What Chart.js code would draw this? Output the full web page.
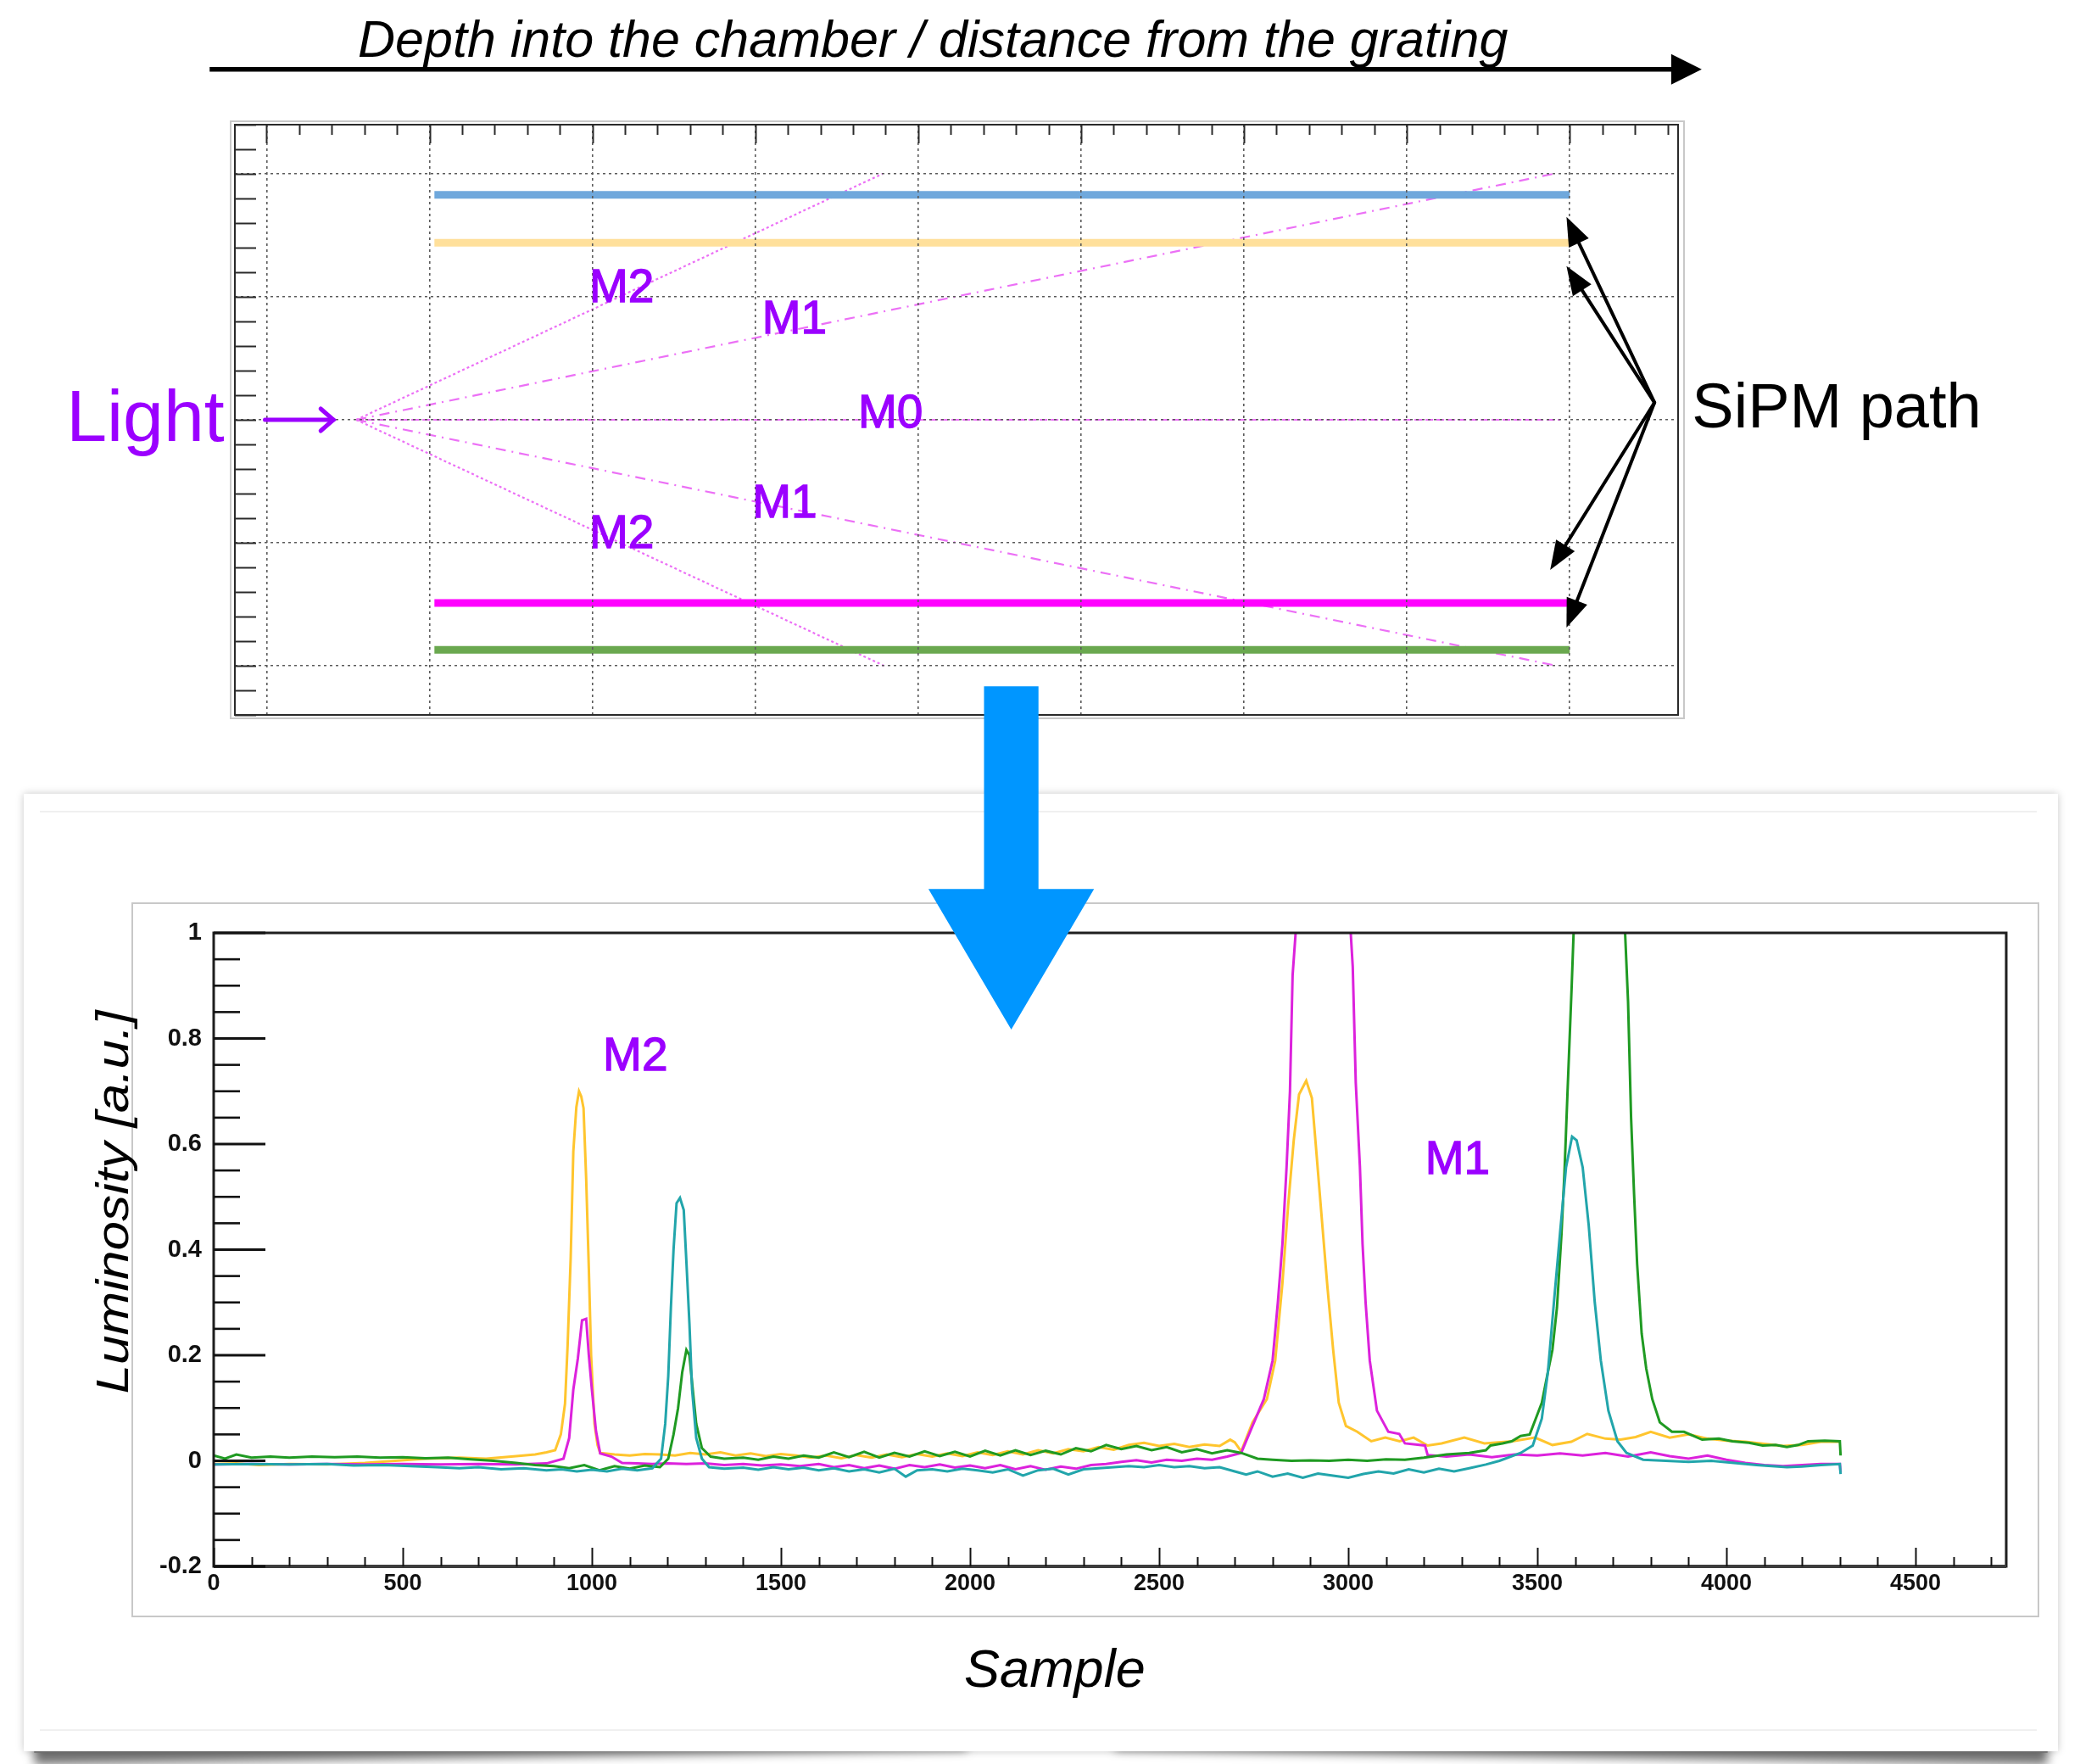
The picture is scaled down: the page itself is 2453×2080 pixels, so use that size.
<!DOCTYPE html>
<html>
<head>
<meta charset="utf-8">
<title>SiPM path and luminosity traces</title>
<script src="https://cdn.jsdelivr.net/npm/chart.js@4.4.1/dist/chart.umd.min.js"></script>
<style>
  html, body { margin: 0; padding: 0; background: #fff; }
  body { width: 2453px; height: 2080px; position: relative; overflow: hidden; }
  canvas { position: absolute; left: 0; top: 0; }
  #pathChart { z-index: 4; }
  #lumChart { z-index: 5; }
  .card { position: absolute; left: 28px; top: 936px; width: 2399px; height: 1129px;
          background: #fff; box-shadow: 0 0 9px rgba(0,0,0,0.22); z-index: 1; }
  .lift { position: absolute; top: 2028px; width: 1100px; height: 30px; background: #777;
          box-shadow: 0 14px 12px rgba(0,0,0,0.55); z-index: 0; }
  .lift.l { left: 40px; transform: rotate(-0.9deg); }
  .lift.r { left: 1315px; transform: rotate(0.9deg); }
  .rule { position: absolute; left: 47px; top: 956px; width: 2355px; height: 1085px;
          border-top: 2px solid #f0f0f0; border-bottom: 2px solid #f0f0f0; box-sizing: border-box; z-index: 2; }
  .pad { position: absolute; border: 2px solid #c8c8c8; box-sizing: border-box; z-index: 3; background: #fff; }
</style>
</head>
<body>
<div class="lift l"></div>
<div class="lift r"></div>
<div class="card"></div>
<div class="rule"></div>
<div class="pad" style="left:271px; top:142px; width:1716px; height:706px;"></div>
<div class="pad" style="left:155px; top:1064px; width:2250px; height:843px;"></div>
<canvas id="pathChart" width="2453" height="2080"></canvas>
<canvas id="lumChart" width="2453" height="2080"></canvas>

<script>
// ---------- top diagram: SiPM tracks and diffraction orders ----------
const gridCols = [0, 1, 2, 3, 4, 5, 6, 7, 8];
const gridRows = [0, 1, 2, 3, 4];

// SiPM tracks (horizontal bars): level and span along the depth axis
const trackLevels = [3.83, 3.44, 0.51, 0.13];
const trackColors = ['#6fa8dc', '#ffe09b', '#ff00ff', '#6aa84f'];
const trackSpan = [1.03, 8];

// diffraction orders leaving the entrance point
const rayOrigin = [0.55, 2.0];
const rayNames = ['M2', 'M1', 'M0', 'M1', 'M2'];
const rayEndX = [3.78, 7.9, 7.94, 7.92, 3.79];
const rayEndY = [4, 4, 2, 0, 0];
const rayLabelX = [2.18, 3.24, 3.83, 3.18, 2.18];
const rayLabelY = [3.06, 2.81, 2.04, 1.31, 1.06];

// ---------- bottom plot: luminosity vs sample ----------
const amberTrace = [[0,-0.006],[60,-0.005],[120,-0.008],[200,-0.006],[300,-0.007],[400,-0.004],[480,0.0],[560,0.004],[650,0.006],[720,0.004],[800,0.009],[850,0.012],[880,0.016],[903,0.02],[918,0.05],[929,0.108],[936,0.22],[944,0.384],[951,0.586],[959,0.67],[966,0.70],[972,0.69],[978,0.668],[985,0.534],[992,0.364],[998,0.2],[1007,0.07],[1015,0.03],[1022,0.015],[1060,0.012],[1100,0.01],[1140,0.013],[1180,0.012],[1220,0.01],[1260,0.015],[1300,0.012],[1340,0.016],[1380,0.01],[1420,0.014],[1460,0.009],[1500,0.013],[1540,0.01],[1580,0.006],[1620,0.01],[1660,0.005],[1700,0.011],[1740,0.006],[1780,0.012],[1820,0.007],[1860,0.013],[1900,0.008],[1940,0.014],[1980,0.009],[2020,0.016],[2060,0.011],[2100,0.018],[2140,0.012],[2180,0.02],[2220,0.014],[2260,0.022],[2300,0.018],[2340,0.026],[2380,0.021],[2420,0.03],[2460,0.034],[2500,0.028],[2540,0.032],[2580,0.026],[2620,0.031],[2660,0.028],[2688,0.04],[2700,0.035],[2717,0.018],[2747,0.073],[2785,0.117],[2807,0.19],[2826,0.336],[2841,0.482],[2856,0.607],[2870,0.694],[2889,0.72],[2904,0.687],[2915,0.592],[2930,0.46],[2945,0.33],[2960,0.212],[2975,0.11],[2994,0.066],[3024,0.055],[3061,0.037],[3098,0.044],[3136,0.037],[3173,0.044],[3210,0.029],[3247,0.033],[3307,0.044],[3360,0.033],[3434,0.037],[3494,0.044],[3540,0.03],[3590,0.036],[3632,0.051],[3680,0.042],[3720,0.04],[3760,0.045],[3800,0.055],[3850,0.044],[3900,0.05],[3950,0.042],[4000,0.038],[4050,0.036],[4100,0.032],[4150,0.028],[4200,0.03],[4250,0.036],[4300,0.036]];

const magentaTrace = [[0,-0.007],[100,-0.006],[200,-0.007],[300,-0.006],[400,-0.007],[500,-0.006],[600,-0.007],[700,-0.006],[800,-0.007],[880,-0.005],[925,0.004],[940,0.043],[951,0.135],[963,0.194],[974,0.266],[985,0.269],[992,0.2],[1000,0.135],[1011,0.056],[1022,0.014],[1052,0.008],[1080,-0.004],[1120,-0.005],[1160,-0.006],[1200,-0.005],[1250,-0.006],[1300,-0.005],[1350,-0.008],[1400,-0.006],[1450,-0.009],[1500,-0.007],[1550,-0.01],[1600,-0.006],[1640,-0.012],[1680,-0.008],[1720,-0.014],[1760,-0.009],[1800,-0.015],[1840,-0.008],[1880,-0.012],[1920,-0.007],[1960,-0.013],[2000,-0.009],[2040,-0.014],[2080,-0.008],[2120,-0.016],[2160,-0.01],[2200,-0.017],[2240,-0.011],[2280,-0.015],[2320,-0.008],[2360,-0.006],[2400,-0.002],[2440,0.001],[2480,-0.003],[2520,0.002],[2560,0.0],[2600,0.004],[2640,0.002],[2680,0.008],[2717,0.015],[2747,0.066],[2777,0.117],[2800,0.19],[2814,0.3],[2826,0.41],[2837,0.556],[2846,0.7],[2853,0.92],[2863,1.02],[2880,1.3],[2910,1.7],[2935,1.85],[2960,1.7],[2985,1.35],[3005,1.02],[3012,0.936],[3020,0.716],[3031,0.556],[3038,0.41],[3046,0.3],[3057,0.19],[3076,0.095],[3106,0.055],[3135,0.051],[3150,0.033],[3203,0.029],[3210,0.011],[3260,0.008],[3320,0.012],[3380,0.007],[3440,0.012],[3500,0.01],[3560,0.014],[3620,0.01],[3680,0.015],[3740,0.008],[3800,0.016],[3850,0.009],[3900,0.004],[3950,0.01],[4000,0.002],[4050,-0.004],[4100,-0.008],[4150,-0.01],[4200,-0.008],[4250,-0.006],[4300,-0.006],[4302,-0.022]];

const tealTrace = [[0,-0.007],[100,-0.006],[200,-0.007],[300,-0.006],[370,-0.009],[450,-0.008],[520,-0.01],[590,-0.012],[650,-0.014],[700,-0.012],[760,-0.016],[820,-0.014],[880,-0.018],[920,-0.016],[960,-0.02],[1000,-0.017],[1040,-0.02],[1080,-0.015],[1120,-0.018],[1160,-0.014],[1183,0.004],[1194,0.07],[1202,0.16],[1209,0.29],[1216,0.4],[1224,0.488],[1233,0.498],[1243,0.475],[1250,0.377],[1258,0.26],[1265,0.135],[1276,0.043],[1291,0.004],[1310,-0.012],[1350,-0.015],[1400,-0.013],[1440,-0.017],[1480,-0.012],[1520,-0.016],[1560,-0.013],[1600,-0.018],[1640,-0.014],[1680,-0.02],[1720,-0.016],[1760,-0.022],[1800,-0.015],[1830,-0.03],[1860,-0.018],[1900,-0.016],[1940,-0.02],[1980,-0.015],[2020,-0.018],[2060,-0.022],[2100,-0.016],[2140,-0.028],[2180,-0.018],[2220,-0.015],[2260,-0.026],[2300,-0.016],[2340,-0.014],[2380,-0.012],[2420,-0.01],[2460,-0.012],[2500,-0.008],[2540,-0.012],[2580,-0.01],[2620,-0.014],[2660,-0.012],[2700,-0.02],[2730,-0.026],[2760,-0.02],[2800,-0.03],[2840,-0.024],[2880,-0.032],[2920,-0.024],[2960,-0.028],[3000,-0.032],[3040,-0.025],[3080,-0.02],[3120,-0.024],[3160,-0.016],[3200,-0.022],[3240,-0.015],[3280,-0.02],[3320,-0.014],[3364,-0.007],[3400,0.0],[3456,0.015],[3488,0.029],[3512,0.08],[3528,0.168],[3544,0.3],[3560,0.43],[3576,0.556],[3592,0.614],[3604,0.607],[3620,0.556],[3636,0.446],[3652,0.3],[3668,0.19],[3688,0.095],[3712,0.037],[3736,0.015],[3780,0.002],[3840,0.0],[3900,-0.002],[3960,0.0],[4020,-0.004],[4080,-0.008],[4120,-0.01],[4160,-0.012],[4200,-0.011],[4250,-0.008],[4300,-0.006],[4302,-0.025]];

const greenTrace = [[0,0.01],[30,0.004],[60,0.012],[100,0.006],[150,0.008],[200,0.006],[260,0.008],[320,0.007],[380,0.008],[440,0.006],[500,0.007],[560,0.005],[620,0.006],[680,0.003],[740,0.0],[800,-0.004],[850,-0.008],[900,-0.01],[940,-0.014],[980,-0.008],[1020,-0.018],[1060,-0.01],[1100,-0.015],[1140,-0.009],[1180,-0.012],[1202,0.004],[1216,0.05],[1228,0.1],[1239,0.168],[1250,0.21],[1258,0.2],[1265,0.148],[1276,0.07],[1291,0.024],[1314,0.008],[1350,0.004],[1400,0.006],[1440,0.002],[1480,0.008],[1520,0.004],[1560,0.01],[1600,0.006],[1640,0.016],[1680,0.007],[1720,0.017],[1760,0.006],[1800,0.015],[1840,0.008],[1880,0.018],[1920,0.009],[1960,0.017],[2000,0.008],[2040,0.019],[2080,0.01],[2120,0.02],[2160,0.011],[2200,0.019],[2240,0.012],[2280,0.024],[2320,0.018],[2360,0.03],[2400,0.022],[2440,0.028],[2480,0.02],[2520,0.026],[2560,0.016],[2600,0.022],[2640,0.014],[2680,0.02],[2717,0.015],[2760,0.004],[2800,0.002],[2850,0.0],[2900,0.001],[2950,0.0],[3000,0.002],[3050,0.0],[3100,0.003],[3150,0.002],[3200,0.006],[3260,0.012],[3320,0.015],[3364,0.02],[3376,0.029],[3408,0.033],[3432,0.037],[3456,0.047],[3480,0.05],[3496,0.08],[3512,0.11],[3528,0.168],[3540,0.21],[3552,0.29],[3564,0.43],[3572,0.548],[3580,0.7],[3591,0.9],[3597,1.02],[3620,1.4],[3660,1.75],[3700,1.4],[3731,1.02],[3740,0.87],[3748,0.65],[3756,0.504],[3764,0.373],[3776,0.241],[3788,0.175],[3804,0.117],[3824,0.073],[3856,0.055],[3888,0.055],[3936,0.04],[3980,0.042],[4016,0.037],[4060,0.034],[4096,0.029],[4130,0.03],[4160,0.026],[4190,0.03],[4216,0.037],[4260,0.038],[4300,0.037],[4302,0.01]];

const sampleTicks = [0, 500, 1000, 1500, 2000, 2500, 3000, 3500, 4000, 4500];
const lumTicks = [-0.2, 0, 0.2, 0.4, 0.6, 0.8, 1];
const peakTags = [['M2', 1115, 0.764], ['M1', 3289, 0.568]];

const FONT = '"Liberation Sans", Arial, sans-serif';
const VIOLET = '#9b00ff';

function toXY(pts) { return pts.map(p => ({ x: p[0], y: p[1] })); }

function line(ctx, x1, y1, x2, y2) {
  ctx.beginPath(); ctx.moveTo(x1, y1); ctx.lineTo(x2, y2); ctx.stroke();
}

// filled arrow head with its tip at (x2, y2)
function head(ctx, x1, y1, x2, y2, len, half) {
  const a = Math.atan2(y2 - y1, x2 - x1);
  const bx = x2 - len * Math.cos(a), by = y2 - len * Math.sin(a);
  ctx.beginPath();
  ctx.moveTo(x2, y2);
  ctx.lineTo(bx + half * Math.sin(a), by - half * Math.cos(a));
  ctx.lineTo(bx - half * Math.sin(a), by + half * Math.cos(a));
  ctx.closePath();
  ctx.fill();
}

// violet order tag, filled and lightly outlined so it reads a bit heavier
function tag(ctx, text, px, py) {
  ctx.fillStyle = VIOLET;
  ctx.strokeStyle = VIOLET;
  ctx.lineWidth = 1.3;
  ctx.font = '55px ' + FONT;
  ctx.textAlign = 'center';
  ctx.textBaseline = 'middle';
  ctx.fillText(text, px, py);
  ctx.strokeText(text, px, py);
}

// ---------- top diagram ----------
const pathDecor = {
  id: 'pathDecor',
  afterDraw(chart) {
    const { ctx, chartArea: a } = chart;
    const x = chart.scales.x, y = chart.scales.y;
    const X = v => x.getPixelForValue(v), Y = v => y.getPixelForValue(v);
    ctx.save();

    // frame and inner ticks
    ctx.strokeStyle = '#2a2a2a';
    ctx.lineWidth = 2;
    ctx.strokeRect(a.left, a.top, a.right - a.left, a.bottom - a.top);
    for (let k = -2; k <= 22; k++) {
      const py = Math.round(Y(k * 0.2)) + 0.5;
      line(ctx, a.left, py, a.left + 25, py);
    }
    for (let k = -1; k <= 44; k++) {
      const v = k * 0.2;
      if (v < x.min || v > x.max) continue;
      const px = Math.round(X(v)) + 0.5;
      line(ctx, px, a.top, px, a.top + (k % 5 === 0 ? 22 : 12));
    }

    // order labels
    rayNames.forEach((n, i) => tag(ctx, n, X(rayLabelX[i]), Y(rayLabelY[i])));

    // incoming light
    ctx.fillStyle = VIOLET;
    ctx.textAlign = 'left';
    ctx.textBaseline = 'alphabetic';
    ctx.font = '86px ' + FONT;
    ctx.fillText('Light', X(-1.23), Y(1.83));
    ctx.strokeStyle = VIOLET;
    ctx.lineWidth = 5;
    ctx.lineCap = 'round';
    const ly = Y(2.0), lx0 = X(-0.01), lx1 = X(0.41);
    line(ctx, lx0, ly, lx1, ly);
    ctx.beginPath();
    ctx.moveTo(lx1 - 15, ly - 13); ctx.lineTo(lx1, ly); ctx.lineTo(lx1 - 15, ly + 13);
    ctx.stroke();

    // SiPM path callout
    ctx.fillStyle = '#000';
    ctx.font = '74px ' + FONT;
    ctx.fillText('SiPM path', X(8.75), Y(1.94));
    ctx.strokeStyle = '#000';
    ctx.lineWidth = 4;
    const ax = X(8.52), ay = Y(2.14);
    const tipX = [7.98, 7.98, 7.88, 7.98], tipY = [3.65, 3.25, 0.78, 0.31];
    tipX.forEach((tx, i) => {
      const px = X(tx), py = Y(tipY[i]);
      const d = Math.hypot(px - ax, py - ay), f = (d - 24) / d;
      line(ctx, ax, ay, ax + (px - ax) * f, ay + (py - ay) * f);
      head(ctx, ax, ay, px, py, 34, 13);
    });

    // headline with its depth arrow
    ctx.font = 'italic 61px ' + FONT;
    ctx.fillText('Depth into the chamber / distance from the grating', X(0.56), Y(4.95));
    ctx.lineWidth = 5.5;
    ctx.lineCap = 'butt';
    const hy = Y(4.85), hx0 = X(-0.35), hx1 = X(8.81);
    line(ctx, hx0, hy, hx1 - 30, hy);
    head(ctx, hx0, hy, hx1, hy, 36, 18);

    ctx.restore();
  }
};

const trackSets = trackLevels.map((lv, i) => ({
  data: [{ x: trackSpan[0], y: lv }, { x: trackSpan[1], y: lv }],
  borderColor: trackColors[i],
  borderWidth: 9,
  borderCapStyle: 'butt',
  pointRadius: 0,
  order: 0
}));

const rayDash = [[3, 3], [12, 7, 2, 7], [9, 4], [12, 7, 2, 7], [3, 3]];
const raySets = rayNames.map((n, i) => ({
  data: [{ x: rayOrigin[0], y: rayOrigin[1] }, { x: rayEndX[i], y: rayEndY[i] }],
  borderColor: 'rgb(236,112,246)',
  borderWidth: 2.2,
  borderDash: rayDash[i],
  pointRadius: 0,
  order: 1
}));

new Chart(document.getElementById('pathChart'), {
  type: 'line',
  data: { datasets: trackSets.concat(raySets) },
  options: {
    responsive: false,
    animation: false,
    devicePixelRatio: 1,
    events: [],
    layout: { padding: { left: 277, right: 474, top: 147, bottom: 1237 } },
    plugins: { legend: { display: false }, tooltip: { enabled: false } },
    scales: {
      x: {
        type: 'linear', min: -0.195, max: 8.665,
        afterBuildTicks: s => { s.ticks = gridCols.map(v => ({ value: v })); },
        afterFit: s => { s.height = 0; },
        ticks: { display: false },
        grid: { color: '#5a5a5a', lineWidth: 1.6, drawTicks: false, z: 1 },
        border: { display: false, dash: [3, 4] }
      },
      y: {
        type: 'linear', min: -0.4, max: 4.4,
        afterBuildTicks: s => { s.ticks = gridRows.map(v => ({ value: v })); },
        afterFit: s => { s.width = 0; },
        ticks: { display: false },
        grid: { color: '#5a5a5a', lineWidth: 1.6, drawTicks: false, z: 1 },
        border: { display: false, dash: [3, 4] }
      }
    }
  },
  plugins: [pathDecor]
});

// ---------- bottom plot ----------
const lumDecor = {
  id: 'lumDecor',
  afterDraw(chart) {
    const { ctx, chartArea: a } = chart;
    const x = chart.scales.x, y = chart.scales.y;
    const X = v => x.getPixelForValue(v), Y = v => y.getPixelForValue(v);
    ctx.save();

    // frame
    ctx.strokeStyle = '#1e1e1e';
    ctx.lineWidth = 3;
    ctx.strokeRect(a.left, a.top, a.right - a.left, a.bottom - a.top);
    ctx.strokeStyle = '#3c3c3c';
    ctx.lineWidth = 4;
    line(ctx, a.left, a.bottom, a.right, a.bottom);

    // inward ticks: y every 0.05, x every 100
    ctx.strokeStyle = '#111';
    for (let k = 0; k <= 24; k++) {
      const py = Y(-0.2 + k * 0.05);
      const major = k % 4 === 0;
      ctx.lineWidth = major ? 3 : 2.6;
      line(ctx, a.left, py, a.left + (major ? 61 : 31), py);
    }
    ctx.lineWidth = 2;
    for (let k = 0; k <= 47; k++) {
      const px = Math.round(X(k * 100)) + 0.5;
      line(ctx, px, a.bottom, px, a.bottom - (k % 5 === 0 ? 22 : 11));
    }

    // order tags over the peaks
    peakTags.forEach(t => tag(ctx, t[0], X(t[1]), Y(t[2])));

    // axis titles
    ctx.fillStyle = '#000';
    ctx.textAlign = 'center';
    ctx.textBaseline = 'alphabetic';
    ctx.font = 'italic 63px ' + FONT;
    ctx.fillText('Sample', X(2224), Y(-0.428));
    ctx.save();
    ctx.translate(X(-226), Y(0.49));
    ctx.rotate(-Math.PI / 2);
    ctx.scale(1.15, 1);
    ctx.font = 'italic 54px ' + FONT;
    ctx.fillText('Luminosity [a.u.]', 0, 0);
    ctx.restore();

    // big arrow leading from the diagram down to the plot
    const cx = X(2109), sh = X(2109 + 72) - cx, hh = X(2109 + 219) - cx;
    const top = Y(1.467), neck = Y(1.083), tip = Y(0.817);
    ctx.fillStyle = '#0096ff';
    ctx.beginPath();
    ctx.moveTo(cx - sh, top); ctx.lineTo(cx + sh, top); ctx.lineTo(cx + sh, neck);
    ctx.lineTo(cx + hh, neck); ctx.lineTo(cx, tip); ctx.lineTo(cx - hh, neck);
    ctx.lineTo(cx - sh, neck); ctx.closePath();
    ctx.fill();

    ctx.restore();
  }
};

function trace(pts, color, order) {
  return {
    data: toXY(pts),
    borderColor: color,
    borderWidth: 3,
    pointRadius: 0,
    tension: 0,
    order: order
  };
}

// the axis boxes take the room left of and below the frame, so tick labels sit inside them
const FRAME_LEFT = 252, FRAME_BOTTOM_GAP = 233;

new Chart(document.getElementById('lumChart'), {
  type: 'line',
  data: {
    datasets: [
      trace(amberTrace, '#ffc52e', 3),
      trace(magentaTrace, '#dc22dc', 2),
      trace(greenTrace, '#1f9a22', 1),
      trace(tealTrace, '#22a5ab', 0)
    ]
  },
  options: {
    responsive: false,
    animation: false,
    devicePixelRatio: 1,
    events: [],
    layout: { padding: { left: 0, right: 87, top: 1100, bottom: 0 } },
    plugins: { legend: { display: false }, tooltip: { enabled: false } },
    scales: {
      x: {
        type: 'linear', min: 0, max: 4740,
        afterBuildTicks: s => { s.ticks = sampleTicks.map(v => ({ value: v })); },
        afterFit: s => { s.height = FRAME_BOTTOM_GAP; },
        ticks: { autoSkip: false, maxRotation: 0, minRotation: 0, padding: 4,
                 color: '#111', font: { family: FONT, size: 27, weight: 'bold' }, callback: v => String(v) },
        grid: { display: false, drawTicks: false },
        border: { display: false }
      },
      y: {
        type: 'linear', min: -0.2, max: 1,
        afterBuildTicks: s => { s.ticks = lumTicks.map(v => ({ value: v })); },
        afterFit: s => { s.width = FRAME_LEFT; },
        ticks: { padding: 14, color: '#111', font: { family: FONT, size: 29, weight: 'bold' }, callback: v => String(v) },
        grid: { display: false, drawTicks: false },
        border: { display: false }
      }
    }
  },
  plugins: [lumDecor]
});
</script>
</body>
</html>
